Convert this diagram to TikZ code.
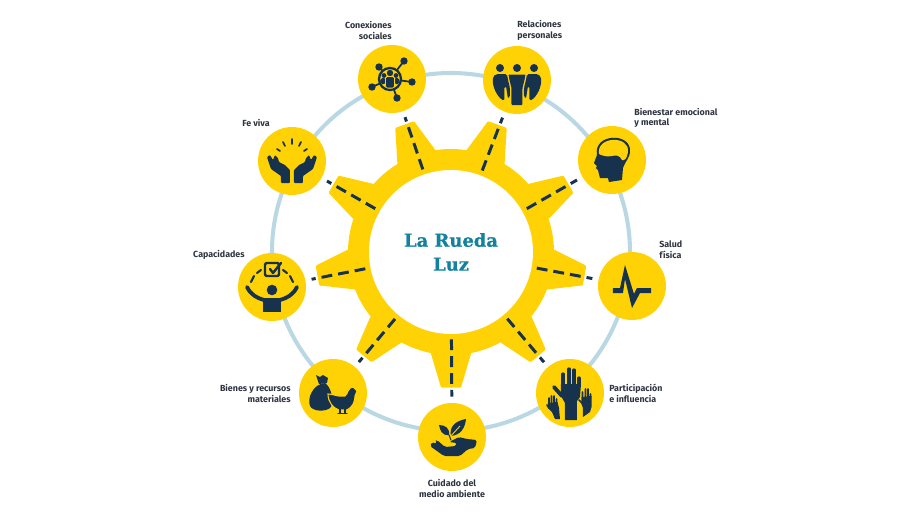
\documentclass[tikz,border=0pt]{standalone}
\usepackage{fontspec}
\setmainfont{Fira Sans}
\newfontfamily\titlefont[FakeBold=0.6]{DejaVu Serif}
\usetikzlibrary{positioning}
\definecolor{ruedayellow}{HTML}{FFD206}
\definecolor{ruedanavy}{HTML}{17324D}
\definecolor{ruedaring}{HTML}{BAD8E4}
\definecolor{ruedateal}{HTML}{12829F}
\definecolor{ruedatext}{HTML}{2E3440}
\tikzset{
	spot/.style={circle, fill=ruedayellow, minimum size=1.36cm, inner sep=0pt},
	hub/.style={circle, fill=white, minimum size=3.28cm, inner sep=0pt, align=center, text=ruedateal, font=\titlefont\bfseries\fontsize{10.2}{13.6}\selectfont},
	lab/.style={text=ruedatext, font=\bfseries\fontsize{5.05}{6.1}\selectfont, inner sep=0pt},
	spoke/.style={draw=ruedanavy, line width=1.7pt, dash pattern=on 6.2pt off 3.4pt, shorten <=2.8pt, shorten >=3.4pt},
	icon/.style={shift={(#1.center)}, x=0.02cm, y=-0.02cm},
	navy line/.style={draw=ruedanavy, line width=#1, line cap=round, line join=round},
	navy line/.default=1.2pt,
}
\newcommand{\gtooth}[1]{\fill[ruedayellow, rounded corners=0.6pt] (#1-11.5:2.05) -- (#1-4.2:2.72) -- (#1+4.2:2.72) -- (#1+11.5:2.05) -- cycle;}
\begin{document}
\begin{tikzpicture}
	\useasboundingbox (-9.02, -5.2) rectangle (9.18, 5.04);
	% Ring
	\draw [ruedaring, line width=2.3pt] (0, 0) circle [radius = 3.58];
	% Gear
	\fill [ruedayellow] (0, 0) circle [radius = 2.06];
	\gtooth{-90} \gtooth{-50} \gtooth{-10} \gtooth{30} \gtooth{70}
	\gtooth{110} \gtooth{150} \gtooth{190} \gtooth{230}
	\node [hub] (rueda) at (0, 0) {La Rueda\\Luz};
	% Circles
	\node [spot] (conex) at (-1.18, 3.46) {};
	\node [spot] (relac) at (1.32, 3.44) {};
	\node [spot] (bienestar) at (3.22, 1.84) {};
	\node [spot] (salud) at (3.62, -0.68) {};
	\node [spot] (partic) at (2.38, -2.82) {};
	\node [spot] (cuidado) at (0.02, -3.70) {};
	\node [spot] (bienes) at (-2.36, -2.82) {};
	\node [spot] (capac) at (-3.58, -0.70) {};
	\node [spot] (fe) at (-3.18, 1.82) {};
	% Spokes
	\draw [spoke] (rueda) -- (conex);
	\draw [spoke] (rueda) -- (relac);
	\draw [spoke] (rueda) -- (bienestar);
	\draw [spoke] (rueda) -- (salud);
	\draw [spoke] (rueda) -- (partic);
	\draw [spoke] (rueda) -- (cuidado);
	\draw [spoke] (rueda) -- (bienes);
	\draw [spoke] (rueda) -- (capac);
	\draw [spoke] (rueda) -- (fe);
	% Labels
	\node [lab, anchor=east, align=right] (lconex) at (-1.18, 4.43) {Conexiones\\sociales};
	\node [lab, anchor=west, align=left] (lrelac) at (1.32, 4.43) {Relaciones\\personales};
	\node [lab, anchor=west, align=left] (lbienestar) at (3.66, 2.68) {Bienestar emocional\\y mental};
	\node [lab, anchor=west, align=left] (lsalud) at (4.16, 0.05) {Salud\\física};
	\node [lab, anchor=west, align=left] (lpartic) at (3.16, -2.83) {Participación\\e influencia};
	\node [lab, align=center] (lcuidado) at (0.02, -4.73) {Cuidado del\\medio ambiente};
	\node [lab, anchor=east, align=right] (lbienes) at (-3.2, -2.83) {Bienes y recursos\\materiales};
	\node [lab, anchor=east] (lcapac) at (-4.12, -0.05) {Capacidades};
	\node [lab] (lfe) at (-3.9, 2.59) {Fe viva};
	% Conexiones icon
	\begin{scope}[icon=conex]
		\draw [navy line=1pt] (-2, 0) -- (-13, -12) (-2, 0) -- (12, -18) (-2, 0) -- (20, 3) (-2, 0) -- (-20, 8) (-2, 0) -- (5, 19);
		\fill [ruedanavy] (-13, -12) circle [radius = 3.7] (12, -18) circle [radius = 3.7] (20, 3) circle [radius = 3.7] (-20, 8) circle [radius = 3.7] (5, 19) circle [radius = 3.7];
		\draw [draw=ruedanavy, fill=ruedayellow, line width=1.3pt] (-2, 0) circle [radius = 11];
		\fill [ruedanavy] (-8, -3.5) circle [radius = 2.4] (4, -3.5) circle [radius = 2.4];
		\fill [ruedanavy, rounded corners=1pt] (-11.5, -1) rectangle (-6, 5) (2, -1) rectangle (7.5, 5);
		\fill [ruedanavy] (-2, -6) circle [radius = 3.2];
		\fill [ruedanavy, draw=ruedayellow, line width=0.35pt, rounded corners=1pt] (-6.5, -2.5) rectangle (2.5, 9);
	\end{scope}
	% Relaciones icon
	\begin{scope}[icon=relac]
		\fill [ruedanavy] (-17, -12) circle [radius = 4] (0, -12) circle [radius = 4] (17, -12) circle [radius = 4];
		\fill [ruedanavy, rounded corners=0.5pt] (-8.5, -5.5) -- (8.5, -5.5) -- (7.5, 0) -- (5.5, 8) -- (5.5, 25) -- (-5.5, 25) -- (-5.5, 8) -- (-7.5, 0) -- cycle;
		\fill [ruedanavy, rounded corners=1pt] (-21, -6) -- (-10, -6) -- (-9, 0) -- (-7, 8) -- (-7, 17) -- (-9, 19) -- (-11, 6) -- (-12.5, 6) -- (-12.5, 21) .. controls (-20, 17) and (-25, 6) .. (-24, -3) -- cycle;
		\fill [ruedanavy, rounded corners=1pt] (21, -6) -- (10, -6) -- (9, 0) -- (7, 8) -- (7, 17) -- (9, 19) -- (11, 6) -- (12.5, 6) -- (12.5, 21) .. controls (20, 17) and (25, 6) .. (24, -3) -- cycle;
	\end{scope}
	% Bienestar icon
	\begin{scope}[icon=bienestar]
		\fill [ruedanavy] (-15, -5) .. controls (-19, -27) and (20, -28) .. (18, -8) .. controls (18, -3) and (14, 0) .. (11, 8) -- (10, 20) -- (-3, 22) -- (-4, 18) -- (-12, 18) -- (-14, 10) -- (-16, 8) -- (-15, 6) -- (-18, 3) -- cycle;
		\fill [ruedayellow] (-13, -6) .. controls (-16, -24) and (18, -25) .. (16, -8) .. controls (15, -2) and (13, 1) .. (10, 0) .. controls (8, -5) and (3, -5) .. (0, -4) .. controls (-5, -3) and (-9, -4) .. (-13, -6) -- cycle;
	\end{scope}
	% Salud icon
	\begin{scope}[icon=salud]
		\fill [ruedanavy] (-19, 2) -- (-12, 2) -- (-7, -21) -- (2, 8) -- (5, 2) -- (19, 2) -- (19, 7) -- (8, 7) -- (0, 22) -- (-7, -7) -- (-9, 7) -- (-19, 7) -- cycle;
	\end{scope}
	% Participacion icon
	\begin{scope}[icon=partic]
		\draw [navy line=1.9pt] (-7, -7) -- (-7, -19) (-1, -8) -- (-1, -24) (4, -8) -- (4, -23) (9, -7) -- (9, -15);
		\draw [navy line=2.2pt] (-8, 3) -- (-16, -6);
		\fill [ruedanavy] (-9, -9) -- (11, -9) -- (10, 4) -- (7, 8) -- (7, 27) -- (-5, 27) -- (-5, 10) -- (-9, 3) -- cycle;
		\draw [navy line=1pt] (-21, 10) -- (-21, 5) (-18.5, 10) -- (-18.5, 3) (-16, 10) -- (-16, 3) (-13.5, 10) -- (-13.5, 6) (-21, 15) -- (-23, 12);
		\fill [ruedanavy] (-22, 10) -- (-12.5, 9) -- (-11, 15) -- (-10, 26) -- (-15, 26) -- (-18, 19) -- (-22, 15) -- cycle;
		\draw [navy line=1pt] (12.5, 4) -- (12.5, -1) (15.5, 4) -- (15.5, -4) (18, 4) -- (18, -4) (20.5, 4) -- (20.5, 1) (13, 11) -- (9, 7);
		\fill [ruedanavy] (11.5, 4) -- (21.5, 3) -- (21.5, 14) -- (20, 19) -- (13, 24) -- (13, 15) -- (11.5, 11) -- cycle;
	\end{scope}
	% Cuidado icon
	\begin{scope}[icon=cuidado]
		\fill [ruedanavy, rounded corners=1pt] (25, 3) -- (15, 2) -- (7, 0) -- (-3, 5) -- (5, 6) -- (4, 9) -- (-7, 10) -- (-15, 3) -- (-17, 4) -- (-15, 7) -- (-20, 5) -- (-22, 9) -- (-8, 19) -- (8, 19) -- (16, 12) -- (23, 11) -- cycle;
		\fill [ruedanavy] (-1, -1) .. controls (-3, -10) and (3, -16) .. (14, -18) .. controls (13, -8) and (8, -2) .. (-1, -1) -- cycle;
		\fill [ruedanavy] (-3, -2) .. controls (-10, -1) and (-12, -7) .. (-13, -12) .. controls (-7, -12) and (-2, -9) .. (-3, -2) -- cycle;
		\draw [draw=ruedayellow, line width=0.5pt] (-2, 0) -- (8, -11);
		\draw [navy line=0.6pt] (-3, -2) -- (-1, 3);
	\end{scope}
	% Bienes icon
	\begin{scope}[icon=bienes]
		\fill [ruedanavy] (-8, -10) .. controls (-20, -9) and (-26, 5) .. (-23, 13) .. controls (-20, 19) and (-6, 19) .. (-2, 14) .. controls (1, 6) and (-2, -6) .. (-8, -10) -- cycle;
		\fill [ruedanavy] (-17, -18) -- (-13, -16) -- (-10, -18) -- (-5, -15) -- (-6, -10) -- (-14, -9) -- cycle;
		\fill [draw=ruedayellow, line width=0.6pt, fill=ruedanavy] (-5, 1) .. controls (0, 1) and (3, 3) .. (6, 3) -- (12, 3) .. controls (15, 1) and (15, -6) .. (20, -6) -- (24, -2) -- (22, 3) .. controls (22, 8) and (20, 14) .. (14, 17) -- (6, 17) .. controls (0, 15) and (-5, 9) .. (-5, 1) -- cycle;
		\draw [navy line=0.7pt] (7, 16) -- (7, 20) (5, 20.5) -- (9, 20.5) (12, 16) -- (12, 20) (10, 20.5) -- (14, 20.5);
	\end{scope}
	% Capacidades icon
	\begin{scope}[icon=capac]
		\fill [ruedanavy] (0, 3) circle [radius = 5.3];
		\draw [navy line=2.2pt] (-25, 0) .. controls (-21, 8) and (-15, 11) .. (-8, 13) -- (8, 13) .. controls (15, 11) and (21, 8) .. (25, 0);
		\fill [ruedanavy] (-9, 12) rectangle (9, 25);
		\draw [navy line=1.2pt] (-21, -5) .. controls (-20, -8) .. (-18, -11);
		\draw [navy line=1.2pt] (-15, -14) -- (-11, -17);
		\draw [navy line=1.2pt] (21, -5) .. controls (20, -8) .. (18, -11);
		\draw [navy line=1.2pt] (15, -14) -- (11, -17);
		\draw [navy line=1.4pt, rounded corners=0.8pt] (-7, -24) rectangle (7, -11);
		\draw [navy line=1.4pt] (-2, -18) -- (1, -14) -- (9, -24);
	\end{scope}
	% Fe icon
	\begin{scope}[icon=fe]
		\draw [navy line=1pt] (0, -22) -- (0, -17) (-9, -19) -- (-7, -15) (9, -19) -- (7, -15) (-15, -12) -- (-12, -10) (15, -12) -- (12, -10);
		\fill [ruedanavy, rounded corners=0.5pt] (-25, -4) -- (-22, -6) -- (-19, -1) -- (-17, -6) -- (-14, -3) -- (-13, 1) -- (-7, 4) -- (-2, 9) -- (-2, 22) -- (-11, 22) -- (-11, 15) -- (-21, 8) -- cycle;
		\fill [ruedanavy, rounded corners=0.5pt] (25, -4) -- (22, -6) -- (19, -1) -- (17, -6) -- (14, -3) -- (13, 1) -- (7, 4) -- (2, 9) -- (2, 22) -- (11, 22) -- (11, 15) -- (21, 8) -- cycle;
	\end{scope}
\end{tikzpicture}
\end{document}
